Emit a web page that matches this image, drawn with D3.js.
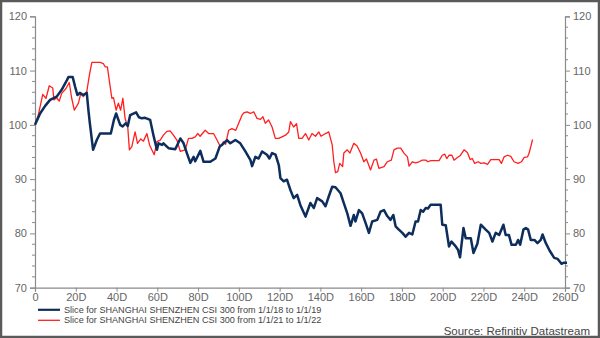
<!DOCTYPE html>
<html><head><meta charset="utf-8">
<script src="https://cdn.jsdelivr.net/npm/d3@7"></script>
<style>
html,body{margin:0;padding:0;background:#fff;}
svg{display:block;font-family:"Liberation Sans",Arial,sans-serif;}
</style></head>
<body><svg id="c" width="600" height="338"></svg>
<script>
const xTicks = [0,20,40,60,80,100,120,140,160,180,200,220,240,260];
const yTicks = [70,80,90,100,110,120];
const seriesNames = ["Slice for SHANGHAI SHENZHEN CSI 300 from 1/1/18 to 1/1/19",
                     "Slice for SHANGHAI SHENZHEN CSI 300 from 1/1/21 to 1/1/22"];
const sourceText = "Source: Refinitiv Datastream";

const blueDays = [0,2.5,5,7.4,10.6,13,15.6,16.4,18.5,19.7,20.8,22,23.7,25.4,26.2,26.9,28.5,30.3,31.9,37.2,38.7,39.8,41.8,43,44.5,45.5,46.7,49.6,51,52.4,54,56.5,58.1,59.8,60.6,62.3,63,65.5,68.8,71.3,72.9,74.5,76.2,77.8,78.6,81.1,82.7,86,88.5,90.6,92,94.2,95.8,98.3,100.7,103.2,105.7,106.5,108.1,109.7,111.4,113.8,115,116.3,118,119.6,120.4,122,123.6,125.3,126.9,128.6,130.2,132.7,135.1,136.8,138.4,140.9,142.5,144.1,145.8,147.4,149.9,151.5,153.2,154.8,156.4,157.2,158.9,160.5,162.2,163.8,165.4,167.9,169.5,171.2,172.8,174.4,175.8,176.9,178.5,180.2,181.8,183.5,185.1,186.7,187.9,189.2,190.4,191.7,192.8,194.1,199,199.8,201.5,203.1,204.3,206.4,207.5,208.5,210.2,211.3,213.8,215.1,217,218.7,221.1,222.8,224.4,226,227.7,229.8,230.9,232.5,233.8,235.9,237,238,239.6,240.8,241.9,243.2,245,246.5,248.1,249,250.6,252.5,254.7,256.4,258.3,259.5,261];
const blueValues = [100,102.1,103.5,104.6,105.2,106.4,108.2,108.8,108.8,107.0,105.5,105.9,105.5,105.9,102.7,100.3,95.4,97.2,98.4,98.4,100.9,102.1,100.0,99.7,100.3,99.8,101.8,102.3,101.4,101.2,101.3,100.9,98.1,95.4,96.6,96.3,96.6,95.7,95.5,97.5,96.6,94.8,93,94.1,93.3,95.2,93.2,93.2,93.8,96,96.4,97.2,96.6,97.2,96.6,95.1,93.5,92.4,94.1,93.8,95.1,94.5,93.8,94.8,94.5,92.6,90.2,89.6,89.9,88,86.5,87.1,85.2,83.1,85.6,84.7,86.5,85.9,85,86.8,88.6,88.5,87.4,85.6,83.7,81.4,83.4,82.2,84.3,83.7,81.9,80.1,82.2,82.5,84,84.3,83.2,82.5,83.4,81.3,80.7,80.1,79.4,80.1,79.8,82.2,82.2,84.3,84,84.7,84.6,85.3,85.3,81.6,81.5,77.6,78.5,77.6,77,75.6,81,79.1,79.1,76.4,78.1,81.6,80.7,80.1,78.5,80.1,79.7,81.6,79.7,79.7,77.9,77.9,78.8,77.9,80.7,81,80.7,78.8,78.8,78.2,78.8,79.8,78.2,76.8,75.5,75.3,74.4,74.6,74.6];

const redDays = [0,1.6,3.8,5.4,7,8.7,9.3,10.5,11.9,13.1,15.2,16.8,18,19.3,21.3,22.4,23.7,25.4,26.7,27.9,32,33.5,34.4,35.5,36.9,37.7,38.5,39.8,40.9,42,43.1,44.2,45.5,46.3,47.5,49.1,50.3,51.9,53.2,54.9,56.2,57.3,58.5,59.8,61.4,63,64.7,66.3,67.9,69.6,71.3,73.7,75.3,77,78.6,79.8,81,83.5,85.2,87.6,89.3,90.9,92.5,93.5,95,96.6,98.5,101.6,102.4,104,105.7,107.3,108.9,110.6,111.8,113,114.6,116.3,117.9,119.5,121.2,122.9,124.5,125.3,126.9,128.3,129.4,131,132.7,134.3,135.9,137.6,139.2,140.3,142.5,144.1,145.8,146.6,147.4,148.5,149.5,150.9,151.5,153.2,154.5,156.4,158,159.7,161.3,162.6,164.6,166.3,167.5,168.7,171.2,172.8,174.8,176.1,177.7,179.4,181,182.7,183.5,185.1,186.7,188.4,190,191.7,192.8,194.1,198.2,199.8,201,202,203.1,204.5,205.6,206.9,208.5,210.5,212.1,213.5,214.5,215.7,217.4,218.7,220.4,222,223.6,227.7,228.8,230.1,231.8,233.4,235,237,238.6,240,241.6,242.4,244.1];
const redValues = [100,101.8,105.6,104.9,107.2,106.8,104.6,105,104.4,105.8,106.7,107.8,104.9,102.7,104,105.7,105.2,106.1,109.2,111.5,111.5,111.3,110.7,110.7,107,104.9,105,102.7,104,102.7,104.9,101.2,99.6,95.4,96,98.7,96.6,97.4,97,98.4,96.3,95.4,94.5,96.9,97.2,98.1,98.8,98.9,98.1,97.2,95.1,95.4,97.5,97.5,97.8,98.4,97.9,99,98.4,98.4,97.2,96,96.9,96.4,99,99.3,99,101.8,102.2,102.4,102.1,102.4,101.2,101,101.5,100.3,100.9,99.6,97.5,97.5,97.8,98.1,98.7,100.6,99.6,100.2,97.5,97.5,98.4,97.2,98.4,97.9,98.7,97.9,98.4,98.7,96.3,93.2,91.2,91.4,92.9,92.3,94.8,95.4,94.8,96.6,96.1,94.8,93.2,93.7,91.7,93.5,93.7,92,92.3,93.2,93.5,95.4,95.7,95.7,94.8,94.1,92.4,93.2,93,93.2,93.5,93.5,93.2,93.4,93.4,94.4,94.6,93.8,94.4,94.4,93.5,93.9,94.3,95.4,94.9,93.6,93.8,92.9,93.2,92.9,93,92.7,93.6,93.6,92.9,94.1,94.4,94.2,93.2,92.9,93.2,94,94.1,94.8,97.3];

const svg = d3.select("#c");
const W = 600, H = 338;
const L = 35, R = 565, T = 16.3, B = 287.7;

const x = d3.scaleLinear().domain([0,260]).range([L,R]);
const y = d3.scaleLinear().domain([70,120]).range([B,T]);

// outer frame
svg.append("rect").attr("x",1).attr("y",1).attr("width",W-2).attr("height",H-2)
  .attr("fill","#fff").attr("stroke","#5a5a5a").attr("stroke-width",2.5);

const axisColor = "#8a8a8a", labelColor = "#666";
function styleAxis(g){
  g.selectAll(".domain").attr("stroke",axisColor).attr("stroke-width",1.2);
  g.selectAll(".tick line").attr("stroke",axisColor).attr("stroke-width",1);
  g.selectAll(".tick text").attr("fill",labelColor).style("font-size","11px")
    .style("font-family","'Liberation Sans',Arial,sans-serif");
}

const minorY = d3.range(70,121,2).filter(v=>v%10!==0);
// left axis
const gl = svg.append("g").attr("transform",`translate(${L},0)`)
  .call(d3.axisLeft(y).tickValues(yTicks).tickSize(5).tickPadding(3).tickFormat(d3.format("d")));
styleAxis(gl);
gl.selectAll(".minor").data(minorY).enter().append("line")
  .attr("x1",-3).attr("x2",0).attr("y1",d=>y(d)).attr("y2",d=>y(d))
  .attr("stroke",axisColor);
// right axis
const gr = svg.append("g").attr("transform",`translate(${R},0)`)
  .call(d3.axisRight(y).tickValues(yTicks).tickSize(5).tickPadding(3).tickFormat(d3.format("d")));
styleAxis(gr);
gr.selectAll(".minor").data(minorY).enter().append("line")
  .attr("x1",0).attr("x2",3).attr("y1",d=>y(d)).attr("y2",d=>y(d))
  .attr("stroke",axisColor);
// bottom axis
const gb = svg.append("g").attr("transform",`translate(0,${B})`)
  .call(d3.axisBottom(x).tickValues(xTicks).tickSize(4).tickPadding(2)
        .tickFormat(d=> d===0 ? "0" : d+"D"));
styleAxis(gb);

const line = d3.line().x(d=>x(d[0])).y(d=>y(d[1])).curve(d3.curveLinear);
const blue = blueDays.map((d,i)=>[d,blueValues[i]]);
const red = redDays.map((d,i)=>[d,redValues[i]]);

svg.append("path").datum(red).attr("d",line).attr("fill","none")
  .attr("stroke","#ff1f1f").attr("stroke-width",1.3).attr("stroke-linejoin","round");
svg.append("path").datum(blue).attr("d",line).attr("fill","none")
  .attr("stroke","#0d2e5c").attr("stroke-width",2.5).attr("stroke-linejoin","round");

// legend
const leg = [{c:"#0d2e5c",w:2.2,t:seriesNames[0],y:309.8},{c:"#ff1f1f",w:1.3,t:seriesNames[1],y:320.3}];
leg.forEach(l=>{
  svg.append("line").attr("x1",38).attr("x2",60).attr("y1",l.y).attr("y2",l.y)
    .attr("stroke",l.c).attr("stroke-width",l.w);
  svg.append("text").attr("x",64).attr("y",l.y+3.1).text(l.t)
    .attr("fill","#444").style("font-size","9.1px");
});
svg.append("text").attr("x",590).attr("y",335).attr("text-anchor","end")
  .text(sourceText).attr("fill","#444").style("font-size","11.5px");
</script></body></html>
